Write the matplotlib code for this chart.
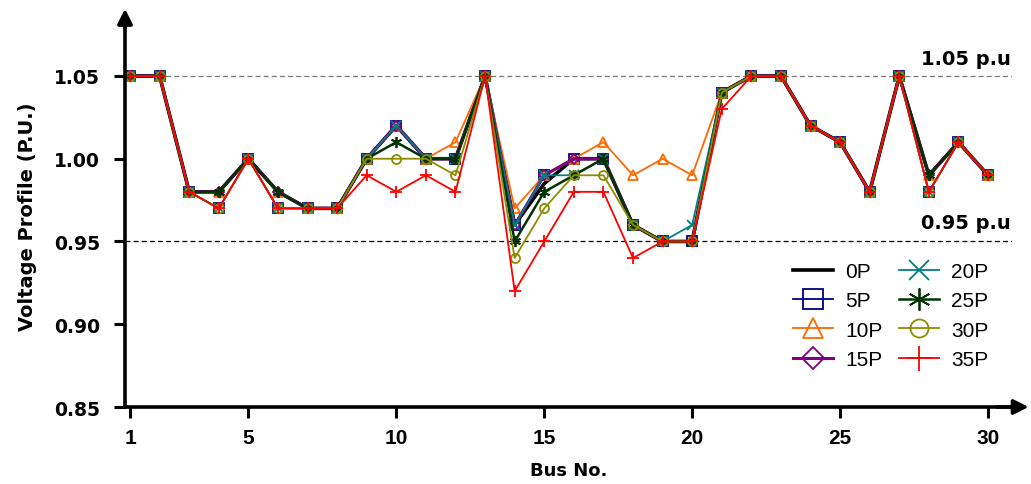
import matplotlib
matplotlib.use('Agg')

import matplotlib.pyplot as plt
import numpy as np

# ---------------------------
# DATA
# ---------------------------
bus = np.arange(1, 31)

v_0p  = [1.05, 1.05, 0.98, 0.98, 1.00, 0.98, 0.97, 0.97, 1.00, 1.02, 1.00, 1.00, 1.05, 0.96, 0.985,
         1.00, 1.00, 0.96, 0.95, 0.95, 1.04, 1.05, 1.05, 1.02, 1.01, 0.98, 1.05, 0.99, 1.01, 0.99]
v_5p  = [1.05, 1.05, 0.98, 0.97, 1.00, 0.97, 0.97, 0.97, 1.00, 1.02, 1.00, 1.00, 1.05, 0.96, 0.99,
         1.00, 1.00, 0.96, 0.95, 0.95, 1.04, 1.05, 1.05, 1.02, 1.01, 0.98, 1.05, 0.98, 1.01, 0.99]
v_10p = [1.05, 1.05, 0.98, 0.98, 1.00, 0.98, 0.97, 0.97, 1.00, 1.02, 1.00, 1.01, 1.05, 0.97, 0.99,
         1.00, 1.01, 0.99, 1.00, 0.99, 1.04, 1.05, 1.05, 1.02, 1.01, 0.98, 1.05, 0.99, 1.01, 0.99]
v_15p = [1.05, 1.05, 0.98, 0.98, 1.00, 0.98, 0.97, 0.97, 1.00, 1.02, 1.00, 1.00, 1.05, 0.96, 0.99,
         1.00, 1.00, 0.96, 0.95, 0.95, 1.04, 1.05, 1.05, 1.02, 1.01, 0.98, 1.05, 0.99, 1.01, 0.99]
v_20p = [1.05, 1.05, 0.98, 0.97, 1.00, 0.97, 0.97, 0.97, 1.00, 1.02, 1.00, 1.00, 1.05, 0.96, 0.99,
         0.99, 1.00, 0.96, 0.95, 0.96, 1.04, 1.05, 1.05, 1.02, 1.01, 0.98, 1.05, 0.98, 1.01, 0.99]
v_25p = [1.05, 1.05, 0.98, 0.98, 1.00, 0.98, 0.97, 0.97, 1.00, 1.01, 1.00, 1.00, 1.05, 0.95, 0.98,
         0.99, 1.00, 0.96, 0.95, 0.95, 1.04, 1.05, 1.05, 1.02, 1.01, 0.98, 1.05, 0.99, 1.01, 0.99]
v_30p = [1.05, 1.05, 0.98, 0.97, 1.00, 0.97, 0.97, 0.97, 1.00, 1.00, 1.00, 0.99, 1.05, 0.94, 0.97,
         0.99, 0.99, 0.96, 0.95, 0.95, 1.04, 1.05, 1.05, 1.02, 1.01, 0.98, 1.05, 0.98, 1.01, 0.99]
v_35p = [1.05, 1.05, 0.98, 0.97, 1.00, 0.97, 0.97, 0.97, 0.99, 0.98, 0.99, 0.98, 1.05, 0.92, 0.95,
         0.98, 0.98, 0.94, 0.95, 0.95, 1.03, 1.05, 1.05, 1.02, 1.01, 0.98, 1.05, 0.98, 1.01, 0.99]

labels = ["0P", "5P", "10P", "15P", "20P", "25P", "30P", "35P"]
xticks = [1, 5, 10, 15, 20, 25, 30]
yticks = [0.85, 0.90, 0.95, 1.00, 1.05]

# ---------------------------
# STYLE
# ---------------------------
plt.rcParams['font.family'] = ['Liberation Sans', 'DejaVu Sans']
bold_wide = ['DejaVu Sans']

series = [v_0p, v_5p, v_10p, v_15p, v_20p, v_25p, v_30p, v_35p]
colors = ['black', '#000080', '#FF6A00', '#800080', '#008080', '#003300', '#8C8C00', '#FF0000']
markers = [None, 's', '^', 'D', 'x', (6, 2, 0), 'o', '+']
msizes = [0, 7, 7, 5.5, 7, 8, 6.5, 9]
lws = [2.6, 1.3, 1.3, 2.2, 1.3, 1.8, 1.3, 1.3]

# ---------------------------
# FIGURE
# ---------------------------
fig = plt.figure(figsize=(10.31, 4.85), dpi=100)
ax = fig.add_axes([125/1031, 1 - 408/485, (1012-125)/1031, (408-25)/485])

for v, c, m, ms, lw, lab in zip(series, colors, markers, msizes, lws, labels):
    ax.plot(bus, v, color=c, marker=m, markersize=ms, lw=lw, label=lab,
            markerfacecolor='none', markeredgecolor=c, markeredgewidth=1.3)

ax.set_xlim(0.83, 30.81)
ax.set_ylim(0.85, 1.0814)

ax.axhline(1.05, color='#777777', ls='--', lw=0.9, dashes=(4, 2.5), zorder=0)
ax.axhline(0.95, color='black', ls='--', lw=0.9, dashes=(4, 2.5), zorder=0)

ax.text(0.999, 1.055, "1.05 p.u", transform=ax.get_yaxis_transform(),
        ha='right', va='bottom', fontsize=14, fontweight='bold', family=bold_wide)
ax.text(0.999, 0.956, "0.95 p.u", transform=ax.get_yaxis_transform(),
        ha='right', va='bottom', fontsize=14, fontweight='bold', family=bold_wide)

# spines / arrows
for s in ['top', 'right']:
    ax.spines[s].set_visible(False)
for s in ['left', 'bottom']:
    ax.spines[s].set_linewidth(2.6)

ax.annotate('', xy=(1.022, 0), xytext=(0.98, 0), xycoords='axes fraction',
            arrowprops=dict(arrowstyle='-|>', lw=2.6, color='black', mutation_scale=22),
            annotation_clip=False)
ax.annotate('', xy=(0, 1.047), xytext=(0, 0.98), xycoords='axes fraction',
            arrowprops=dict(arrowstyle='-|>', lw=2.6, color='black', mutation_scale=22),
            annotation_clip=False)

ax.set_xticks(xticks)
ax.set_yticks(yticks)
ax.set_yticklabels(["%.2f" % t for t in yticks])
ax.tick_params(axis='both', direction='out', length=8, width=2.2)
ax.tick_params(axis='y', pad=10)
ax.tick_params(axis='x', pad=7)
for t in ax.get_yticklabels():
    t.set_fontweight('bold')
    t.set_family(bold_wide)
    t.set_fontsize(13.5)
for t in ax.get_xticklabels():
    t.set_fontweight('bold')
    t.set_fontsize(15)

ax.set_xlabel("Bus No.", fontsize=13, fontweight='bold', family=bold_wide, labelpad=10)
ax.set_ylabel("Voltage Profile (P.U.)", fontsize=14, fontweight='bold', family=bold_wide,
              labelpad=12)

ax.legend(loc='lower right', bbox_to_anchor=(0.995, 0.05), ncol=2, frameon=False,
          fontsize=15, markerscale=2.0, handlelength=1.9, columnspacing=0.8,
          handletextpad=0.6, labelspacing=0.5)

fig.savefig("out.png", dpi=100)
